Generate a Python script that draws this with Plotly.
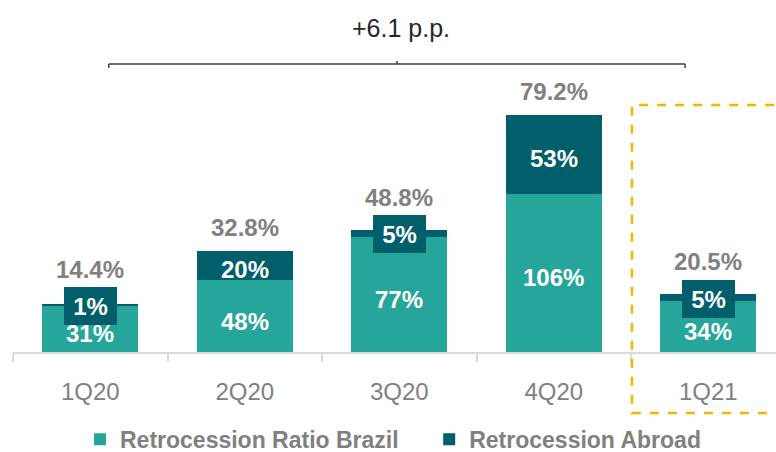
import plotly.graph_objects as go

# Quarterly retrocession ratios (%)
quarters = ["1Q20", "2Q20", "3Q20", "4Q20", "1Q21"]
ratio_brazil = [31, 48, 77, 106, 34]
ratio_abroad = [1, 20, 5, 53, 5]
total_ratio = [14.4, 32.8, 48.8, 79.2, 20.5]
change_label = "+6.1 p.p."
highlight_quarter = "1Q21"

TEAL = "#26A69A"
DARK_TEAL = "#005F6B"
GRAY = "#808080"
FONT = "Liberation Sans, Arial, sans-serif"
NBSP = "\u00a0"

W, H = 776, 452
M_L, M_R, M_T, M_B = 13, 0, 0, 100
plot_h = H - M_T - M_B
plot_w = W - M_L - M_R
y_range = [0, 236]
x_range = [-0.5, 4.4385]
px_per_unit = plot_h / (y_range[1] - y_range[0])

fig = go.Figure()
fig.add_trace(go.Bar(x=quarters, y=ratio_brazil, name="Retrocession Ratio Brazil" + NBSP * 4,
                     marker=dict(color=TEAL, line=dict(width=0))))
fig.add_trace(go.Bar(x=quarters, y=ratio_abroad, name="Retrocession Abroad",
                     marker=dict(color=DARK_TEAL, line=dict(width=0))))

annotations = []
BOX_W, BOX_H = 53, 38
for i, q in enumerate(quarters):
    b, a, t = ratio_brazil[i], ratio_abroad[i], total_ratio[i]
    # label of the Brazil segment
    annotations.append(dict(x=q, y=b / 2, text=f"<b>{b}%</b>", showarrow=False,
                            yshift=-5, font=dict(family=FONT, size=24, color="white")))
    # label of the abroad segment; thin segments get a boxed label
    seg_px = a * px_per_unit
    boxed = seg_px < 26
    ann = dict(x=q, y=b + a / 2, text=f"<b>{a}%</b>", showarrow=False,
               font=dict(family=FONT, size=24, color="white"))
    if boxed:
        ann.update(bgcolor=DARK_TEAL, width=BOX_W, height=BOX_H, borderpad=0,
                   borderwidth=0, yshift=-1)
    else:
        ann.update(yshift=-4)
    annotations.append(ann)
    # total ratio above the stack
    if boxed:
        box_top_rel = BOX_H / 2 - 1 - seg_px / 2
        shift = box_top_rel + 18
    else:
        shift = 23
    annotations.append(dict(x=q, y=b + a, text=f"<b>{t}%</b>", showarrow=False,
                            yanchor="middle", yshift=shift,
                            font=dict(family=FONT, size=24, color=GRAY)))

# bracket spanning the period, with its caption
br_x0, br_x1 = 0.12, 3.85
br_mid = (br_x0 + br_x1) / 2
br_y = (plot_h - 64) / px_per_unit
tick_dn = 4 / px_per_unit
tick_up = 3 / px_per_unit
line_style = dict(color="#404040", width=1.5)
shapes = [
    dict(type="line", xref="x", yref="y", x0=br_x0, x1=br_x1, y0=br_y, y1=br_y, line=line_style),
    dict(type="line", xref="x", yref="y", x0=br_x0, x1=br_x0, y0=br_y, y1=br_y - tick_dn, line=line_style),
    dict(type="line", xref="x", yref="y", x0=br_x1, x1=br_x1, y0=br_y, y1=br_y - tick_dn, line=line_style),
    dict(type="line", xref="x", yref="y", x0=br_mid, x1=br_mid, y0=br_y, y1=br_y + tick_up, line=line_style),
]
annotations.append(dict(x=br_mid, y=(plot_h - 28) / px_per_unit, text=change_label,
                        showarrow=False, xshift=4,
                        font=dict(family=FONT, size=25, color="#262626")))

# dashed highlight around the latest quarter
hi = quarters.index(highlight_quarter)
hx0 = (hi - 0.494 - x_range[0]) / (x_range[1] - x_range[0])
shapes.append(dict(type="rect", xref="paper", yref="paper",
                   x0=hx0, x1=1.08, y0=(plot_h - 413) / plot_h, y1=(plot_h - 105) / plot_h,
                   line=dict(color="#F5B400", width=2.5, dash="dash"),
                   fillcolor="rgba(0,0,0,0)"))

fig.update_layout(
    width=W, height=H,
    margin=dict(l=M_L, r=M_R, t=M_T, b=M_B, autoexpand=False),
    barmode="stack", bargap=0.38,
    plot_bgcolor="white", paper_bgcolor="white",
    font=dict(family=FONT, color=GRAY),
    annotations=annotations, shapes=shapes,
    showlegend=True,
    legend=dict(orientation="h", x=(80 - M_L) / plot_w, xanchor="left",
                y=-0.248, yanchor="middle",
                font=dict(family=FONT, size=23, color=GRAY, weight="bold"),
                traceorder="normal", itemwidth=30),
    xaxis=dict(range=x_range, showline=True, linecolor="#D9D9D9", linewidth=2,
               ticks="outside", tickson="boundaries", ticklen=8, tickcolor="#D9D9D9",
               tickwidth=2, ticklabelstandoff=17,
               tickfont=dict(family=FONT, size=24, color=GRAY), showgrid=False),
    yaxis=dict(range=y_range, visible=False, showgrid=False, zeroline=False),
)

fig.write_html("out.html")
